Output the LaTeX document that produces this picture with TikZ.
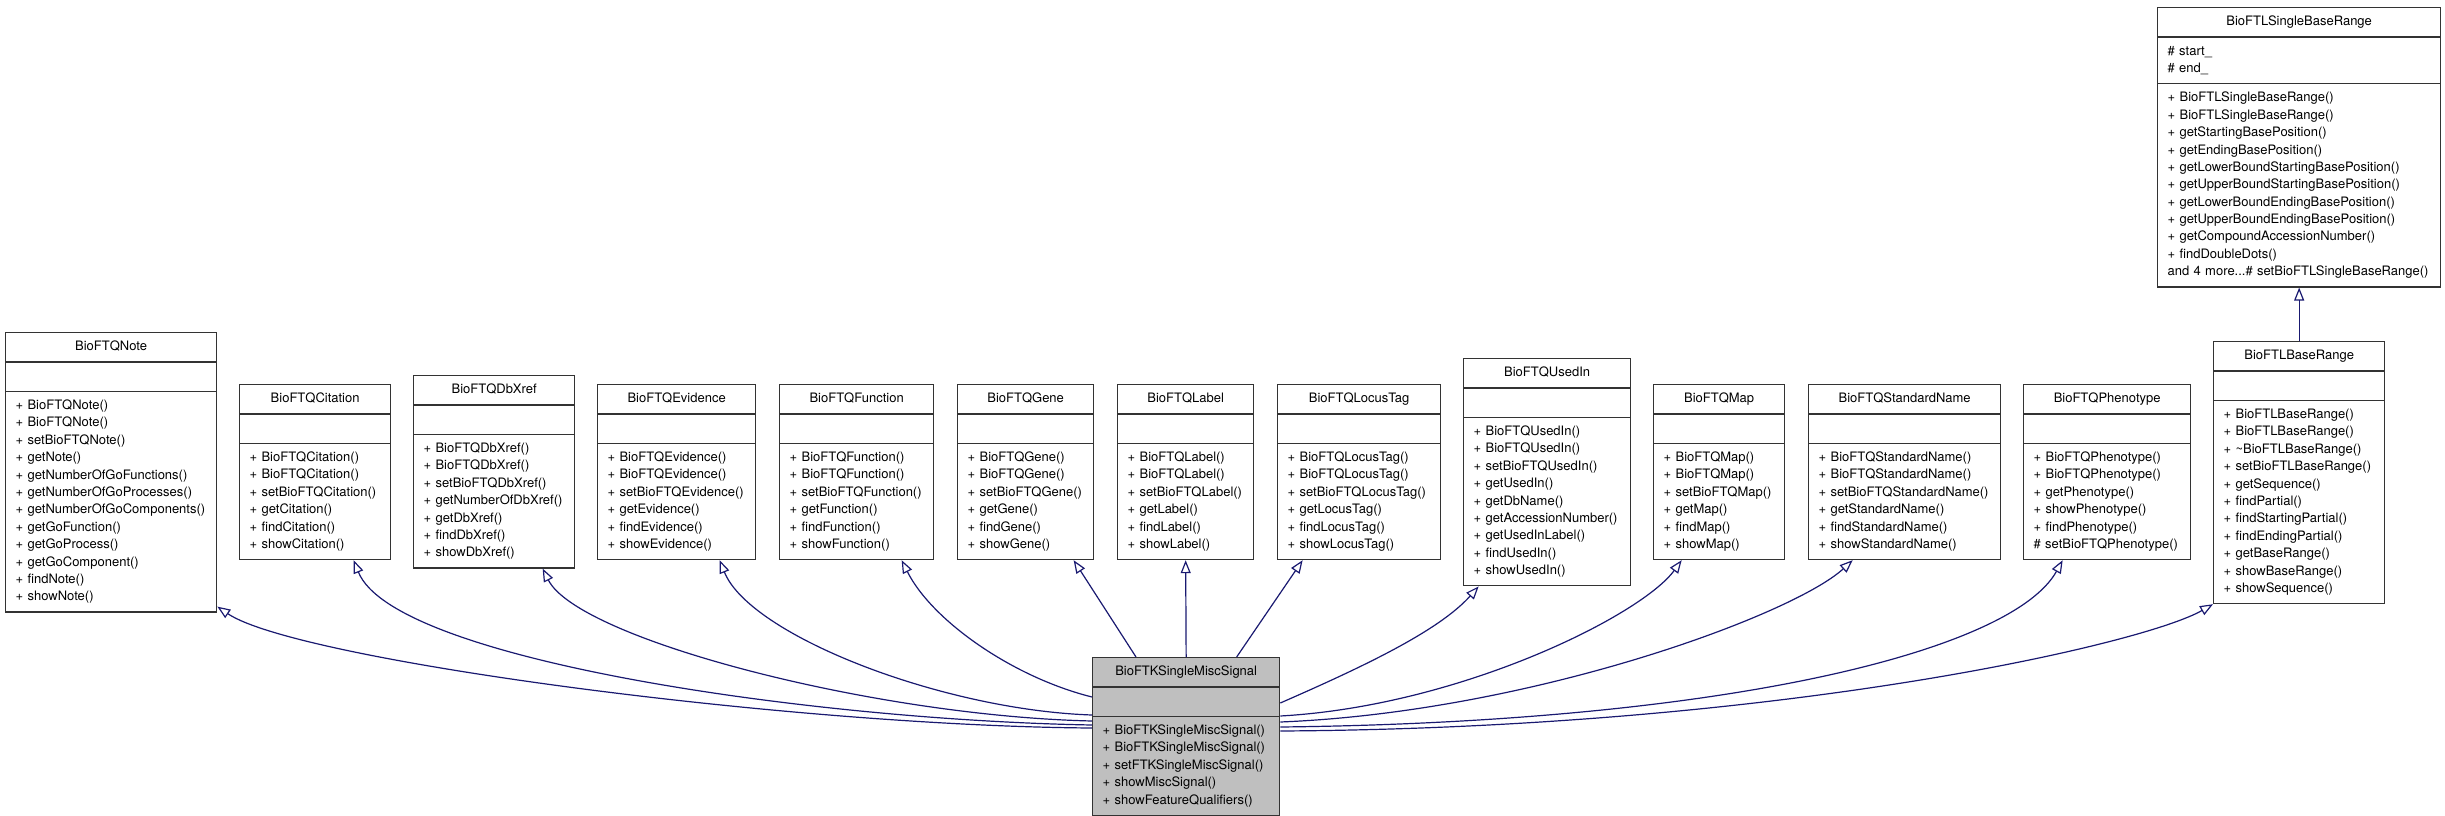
\documentclass[tikz,border=0pt]{standalone}
\usepackage{fontspec}
\setmainfont{TeX Gyre Heros}
\usetikzlibrary{shapes.multipart,arrows.meta}
\definecolor{edgeblue}{RGB}{25,25,112}
\definecolor{signalgray}{RGB}{191,191,191}
\newcommand\topstr{\rule{0pt}{17.5pt}}
\newcommand\botstr{\rule[-10.5pt]{0pt}{10.5pt}}
\newcommand\nomembers{\topstr\botstr}
\newcommand\clsname[1]{\makebox[\linewidth]{\topstr#1\botstr}}
\tikzset{>={Triangle[open,length=13pt,width=10pt]}}
\tikzset{cls/.style={draw=black!80, line width=1.3pt, rectangle split, rectangle split parts=3, inner sep=0pt, inner xsep=10pt, anchor=north west, align=left, font=\fontsize{13}{17.4}\selectfont}}
\tikzset{inh/.style={->, draw=edgeblue, line width=1.2pt}}

\begin{document}
\begin{tikzpicture}[x=1pt,y=-1pt]
    \useasboundingbox (0,0) rectangle (2445,816);
    % base classes
    \node [cls, text width=191pt] (note) at (5,332) {\clsname{BioFTQNote}
      \nodepart{two}\nomembers
      \nodepart{three}\topstr+~BioFTQNote()\\+~BioFTQNote()\\+~setBioFTQNote()\\+~getNote()\\+~getNumberOfGoFunctions()\\+~getNumberOfGoProcesses()\\+~getNumberOfGoComponents()\\+~getGoFunction()\\+~getGoProcess()\\+~getGoComponent()\\+~findNote()\\+~showNote()\botstr};
    \node [cls, text width=131pt] (citation) at (239,384) {\clsname{BioFTQCitation}
      \nodepart{two}\nomembers
      \nodepart{three}\topstr+~BioFTQCitation()\\+~BioFTQCitation()\\+~setBioFTQCitation()\\+~getCitation()\\+~findCitation()\\+~showCitation()\botstr};
    \node [cls, text width=141pt] (dbxref) at (413,375) {\clsname{BioFTQDbXref}
      \nodepart{two}\nomembers
      \nodepart{three}\topstr+~BioFTQDbXref()\\+~BioFTQDbXref()\\+~setBioFTQDbXref()\\+~getNumberOfDbXref()\\+~getDbXref()\\+~findDbXref()\\+~showDbXref()\botstr};
    \node [cls, text width=138pt] (evidence) at (597,384) {\clsname{BioFTQEvidence}
      \nodepart{two}\nomembers
      \nodepart{three}\topstr+~BioFTQEvidence()\\+~BioFTQEvidence()\\+~setBioFTQEvidence()\\+~getEvidence()\\+~findEvidence()\\+~showEvidence()\botstr};
    \node [cls, text width=134pt] (function) at (779,384) {\clsname{BioFTQFunction}
      \nodepart{two}\nomembers
      \nodepart{three}\topstr+~BioFTQFunction()\\+~BioFTQFunction()\\+~setBioFTQFunction()\\+~getFunction()\\+~findFunction()\\+~showFunction()\botstr};
    \node [cls, text width=116pt] (gene) at (957,384) {\clsname{BioFTQGene}
      \nodepart{two}\nomembers
      \nodepart{three}\topstr+~BioFTQGene()\\+~BioFTQGene()\\+~setBioFTQGene()\\+~getGene()\\+~findGene()\\+~showGene()\botstr};
    \node [cls, text width=116pt] (label) at (1117,384) {\clsname{BioFTQLabel}
      \nodepart{two}\nomembers
      \nodepart{three}\topstr+~BioFTQLabel()\\+~BioFTQLabel()\\+~setBioFTQLabel()\\+~getLabel()\\+~findLabel()\\+~showLabel()\botstr};
    \node [cls, text width=143pt] (locustag) at (1277,384) {\clsname{BioFTQLocusTag}
      \nodepart{two}\nomembers
      \nodepart{three}\topstr+~BioFTQLocusTag()\\+~BioFTQLocusTag()\\+~setBioFTQLocusTag()\\+~getLocusTag()\\+~findLocusTag()\\+~showLocusTag()\botstr};
    \node [cls, text width=147pt] (usedin) at (1463,358) {\clsname{BioFTQUsedIn}
      \nodepart{two}\nomembers
      \nodepart{three}\topstr+~BioFTQUsedIn()\\+~BioFTQUsedIn()\\+~setBioFTQUsedIn()\\+~getUsedIn()\\+~getDbName()\\+~getAccessionNumber()\\+~getUsedInLabel()\\+~findUsedIn()\\+~showUsedIn()\botstr};
    \node [cls, text width=111pt] (map) at (1653,384) {\clsname{BioFTQMap}
      \nodepart{two}\nomembers
      \nodepart{three}\topstr+~BioFTQMap()\\+~BioFTQMap()\\+~setBioFTQMap()\\+~getMap()\\+~findMap()\\+~showMap()\botstr};
    \node [cls, text width=172pt] (stdname) at (1808,384) {\clsname{BioFTQStandardName}
      \nodepart{two}\nomembers
      \nodepart{three}\topstr+~BioFTQStandardName()\\+~BioFTQStandardName()\\+~setBioFTQStandardName()\\+~getStandardName()\\+~findStandardName()\\+~showStandardName()\botstr};
    \node [cls, text width=147pt] (phenotype) at (2023,384) {\clsname{BioFTQPhenotype}
      \nodepart{two}\nomembers
      \nodepart{three}\topstr+~BioFTQPhenotype()\\+~BioFTQPhenotype()\\+~getPhenotype()\\+~showPhenotype()\\+~findPhenotype()\\\#~setBioFTQPhenotype()\botstr};
    \node [cls, text width=151pt] (baserange) at (2213,341) {\clsname{BioFTLBaseRange}
      \nodepart{two}\nomembers
      \nodepart{three}\topstr+~BioFTLBaseRange()\\+~BioFTLBaseRange()\\+~\textasciitilde BioFTLBaseRange()\\+~setBioFTLBaseRange()\\+~getSequence()\\+~findPartial()\\+~findStartingPartial()\\+~findEndingPartial()\\+~getBaseRange()\\+~showBaseRange()\\+~showSequence()\botstr};
    \node [cls, text width=263pt] (singlebase) at (2157,7) {\clsname{BioFTLSingleBaseRange}
      \nodepart{two}\topstr\#~start\_\\\#~end\_\botstr
      \nodepart{three}\topstr+~BioFTLSingleBaseRange()\\+~BioFTLSingleBaseRange()\\+~getStartingBasePosition()\\+~getEndingBasePosition()\\+~getLowerBoundStartingBasePosition()\\+~getUpperBoundStartingBasePosition()\\+~getLowerBoundEndingBasePosition()\\+~getUpperBoundEndingBasePosition()\\+~getCompoundAccessionNumber()\\+~findDoubleDots()\\and~4~more...\#~setBioFTLSingleBaseRange()\botstr};
    % derived class
    \node [cls, fill=signalgray, text width=167pt] (sig) at (1092,657) {\clsname{BioFTKSingleMiscSignal}
      \nodepart{two}\nomembers
      \nodepart{three}\topstr+~BioFTKSingleMiscSignal()\\+~BioFTKSingleMiscSignal()\\+~setFTKSingleMiscSignal()\\+~showMiscSignal()\\+~showFeatureQualifiers()\botstr};
    % inheritance
    \draw [inh] ([yshift=-71pt]sig.north west) .. controls +(-300,-2) and +(80,54) .. ([yshift=6pt]note.south east);
    \draw [inh] ([yshift=-68pt]sig.north west) .. controls +(-280,-5) and +(40,100) .. ([xshift=38.5pt]citation.south);
    \draw [inh] ([yshift=-64pt]sig.north west) .. controls +(-220,-5) and +(35,70) .. ([xshift=48.5pt]dbxref.south);
    \draw [inh] ([yshift=-58pt]sig.north west) .. controls +(-150,-5) and +(30,75) .. ([xshift=43pt]evidence.south);
    \draw [inh] ([yshift=-40pt]sig.north west) .. controls +(-80,-20) and +(30,60) .. ([xshift=45pt]function.south);
    \draw [inh] ([xshift=44pt]sig.north west) -- ([xshift=48pt]gene.south);
    \draw [inh] (sig.north) -- (label.south);
    \draw [inh] ([xshift=50.5pt]sig.north) -- ([xshift=-56.5pt]locustag.south);
    \draw [inh] ([yshift=-46pt]sig.north east) .. controls +(80,-35) and +(-40,45) .. ([xshift=-68.5pt]usedin.south);
    \draw [inh] ([yshift=-59pt]sig.north east) .. controls +(180,-10) and +(-40,55) .. ([xshift=-37.5pt]map.south);
    \draw [inh] ([yshift=-65pt]sig.north east) .. controls +(250,-10) and +(-60,55) .. ([xshift=-52pt]stdname.south);
    \draw [inh] ([yshift=-70pt]sig.north east) .. controls +(450,-5) and +(-50,90) .. ([xshift=-44.5pt]phenotype.south);
    \draw [inh] ([yshift=-74pt]sig.north east) .. controls +(500,-3) and +(-70,40) .. (baserange.south west);
    \draw [inh] (baserange.north) -- (singlebase.south);
\end{tikzpicture}
\end{document}
